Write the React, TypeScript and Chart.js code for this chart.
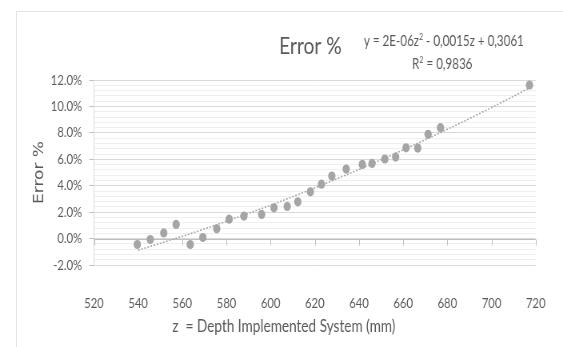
import React, { useEffect, useRef } from "react";
import { Chart, registerables } from "chart.js";

Chart.register(...registerables);

// ---- data ----
const depthZ = [539.6, 545.5, 551.6, 557.2, 563.6, 569.3, 575.6, 581.2, 587.9, 595.9, 601.5, 607.5, 612.3, 618.0, 623.0, 627.7, 634.2, 641.5, 645.9, 651.7, 656.6, 661.3, 666.6, 671.3, 676.9, 717.2];
const errorPct = [-0.45, -0.07, 0.43, 1.07, -0.45, 0.08, 0.74, 1.47, 1.70, 1.83, 2.33, 2.43, 2.78, 3.54, 4.12, 4.73, 5.26, 5.61, 5.69, 6.02, 6.17, 6.87, 6.85, 7.89, 8.39, 11.62];
const trendZ = [540, 560, 580, 600, 620, 640, 660, 680, 700, 718];
const trendPct = [-0.88, 0.17, 1.31, 2.53, 3.84, 5.23, 6.71, 8.27, 9.91, 11.47];
const xTicks = { min: 520, max: 720, step: 20 };
const yTicks = { min: -2, max: 12, major: 2, minor: 0.4 };

const chartTitle = "Error %";
const yTitle = "Error %";
const xTitle = "z  = Depth Implemented System (mm)";
const eqParts = ["y = 2E-06z", "2", " - 0,0015z + 0,3061"];
const r2Parts = ["R", "2", " = 0,9836"];

const W = 704;
const H = 347;
const S = 563 / W;
const TXT = "#595959";
const GRAY = "#a5a5a5";

const isMajor = (v: number) => Math.abs(v / yTicks.major - Math.round(v / yTicks.major)) < 1e-6;

function drawSup(ctx: CanvasRenderingContext2D, parts: string[], cx: number, base: number, size: number) {
  const main = `${size}px Lato`;
  const sup = `${Math.round(size * 0.62)}px Lato`;
  ctx.font = main;
  const w0 = ctx.measureText(parts[0]).width;
  const w2 = ctx.measureText(parts[2]).width;
  ctx.font = sup;
  const w1 = ctx.measureText(parts[1]).width;
  let x = cx - (w0 + w1 + w2) / 2;
  ctx.textAlign = "left";
  ctx.textBaseline = "alphabetic";
  ctx.font = main;
  ctx.fillText(parts[0], x, base);
  x += w0;
  ctx.font = sup;
  ctx.fillText(parts[1], x, base - size * 0.38);
  x += w1;
  ctx.font = main;
  ctx.fillText(parts[2], x, base);
}

const zeroAxisPlugin = {
  id: "zeroAxis",
  beforeDatasetsDraw(chart: any) {
    const { ctx, chartArea, scales } = chart;
    const x = scales.x;
    const y = scales.y;
    const y0 = Math.round(y.getPixelForValue(0)) + 0.5;
    ctx.save();
    ctx.strokeStyle = "#bfbfbf";
    ctx.lineWidth = 1;
    ctx.beginPath();
    ctx.moveTo(chartArea.left, y0);
    ctx.lineTo(chartArea.right, y0);
    x.ticks.forEach((t: any) => {
      const px = Math.round(x.getPixelForValue(t.value)) + 0.5;
      ctx.moveTo(px, y0);
      ctx.lineTo(px, y0 + 6);
    });
    ctx.stroke();
    ctx.restore();
  },
};

const textPlugin = {
  id: "texts",
  afterDraw(chart: any) {
    const { ctx, chartArea } = chart;
    ctx.save();
    ctx.fillStyle = TXT;
    // chart title
    ctx.font = "24px Lato";
    ctx.textAlign = "center";
    ctx.textBaseline = "alphabetic";
    ctx.fillText(chartTitle, 388, 54);
    // trendline equation
    drawSup(ctx, eqParts, 555, 46, 14.5);
    drawSup(ctx, r2Parts, 553, 69, 14.5);
    // x title
    ctx.font = "17px Lato";
    ctx.textAlign = "center";
    ctx.fillText(xTitle, 355, 332);
    // y title
    ctx.save();
    ctx.translate(50, (chartArea.top + chartArea.bottom) / 2);
    ctx.rotate(-Math.PI / 2);
    ctx.font = '17px "DejaVu Sans"';
    ctx.textAlign = "center";
    ctx.textBaseline = "middle";
    ctx.fillText(yTitle, 0, 0);
    ctx.restore();
    ctx.restore();
  },
};

export default function App() {
  const ref = useRef<HTMLCanvasElement | null>(null);

  useEffect(() => {
    if (!ref.current) return;
    const points = depthZ.map((z, i) => ({ x: z, y: errorPct[i] }));
    const trend = trendZ.map((z, i) => ({ x: z, y: trendPct[i] }));
    const chart = new Chart(ref.current, {
      type: "scatter",
      data: {
        datasets: [
          {
            label: "trend",
            data: trend,
            showLine: true,
            borderColor: GRAY,
            borderWidth: 1.6,
            borderDash: [2, 2],
            pointRadius: 0,
            tension: 0.4,
            cubicInterpolationMode: "monotone",
          } as any,
          {
            label: "Error %",
            data: points,
            backgroundColor: GRAY,
            borderColor: GRAY,
            borderWidth: 0,
            pointRadius: 4.6,
          },
        ],
      },
      options: {
        responsive: false,
        animation: false,
        devicePixelRatio: 1,
        layout: { padding: { top: 80, right: 20, left: 0, bottom: 0 } },
        plugins: { legend: { display: false }, tooltip: { enabled: false }, title: { display: false } },
        scales: {
          x: {
            type: "linear",
            min: xTicks.min,
            max: xTicks.max,
            ticks: { stepSize: xTicks.step, padding: 22, color: TXT, font: { family: "Lato", size: 14 } },
            grid: { display: false },
            border: { display: false },
            afterFit: (s: any) => {
              s.height = 82;
            },
          },
          y: {
            type: "linear",
            min: yTicks.min,
            max: yTicks.max,
            ticks: {
              stepSize: yTicks.minor,
              autoSkip: false,
              maxTicksLimit: 100,
              padding: 9,
              color: TXT,
              font: { family: "Lato", size: 14 },
              callback: (v: any) => {
                let n = Number(v);
                if (Math.abs(n) < 1e-9) n = 0;
                return isMajor(n) ? n.toFixed(1) + "%" : "";
              },
            },
            grid: {
              color: (c: any) => (c.tick && isMajor(c.tick.value) ? "#d9d9d9" : "#efefef"),
              tickLength: 6,
              tickColor: (c: any) => (c.tick && isMajor(c.tick.value) ? "#bfbfbf" : "rgba(0,0,0,0)"),
            },
            border: { display: true, color: "#d9d9d9" },
            afterFit: (s: any) => {
              s.width = 117.5;
            },
          },
        },
      },
      plugins: [zeroAxisPlugin, textPlugin],
    });
    return () => chart.destroy();
  }, []);

  return (
    <div style={{ position: "fixed", left: 0, top: 0, width: 563, height: 347, overflow: "hidden", background: "#fff" }}>
      <canvas
        ref={ref}
        width={W}
        height={H}
        style={{ display: "block", width: W, height: H, transform: `scaleX(${S})`, transformOrigin: "0 0" }}
      />
      <div
        style={{
          position: "absolute",
          left: 16,
          top: 11,
          width: 620,
          height: 420,
          border: "1px solid #e3e3e3",
          pointerEvents: "none",
        }}
      />
    </div>
  );
}
